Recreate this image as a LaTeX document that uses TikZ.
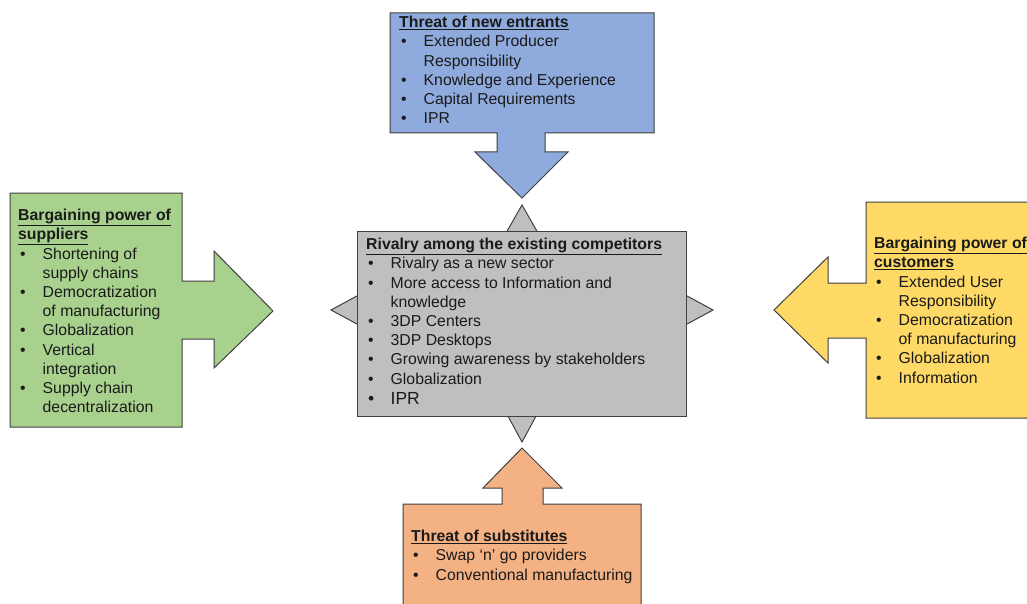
\documentclass[tikz,border=0pt]{standalone}
\usepackage{fontspec}
\setmainfont{Liberation Sans}
\usepackage{array}
\definecolor{edge}{HTML}{404040}
\definecolor{entrants}{HTML}{8FAADC}
\definecolor{suppliers}{HTML}{A9D18E}
\definecolor{customers}{HTML}{FFD966}
\definecolor{substitutes}{HTML}{F4B183}
\definecolor{rivalry}{HTML}{BFBFBF}
\definecolor{ink}{HTML}{1A1A1A}
\newcommand{\blocktitle}[1]{\multicolumn{2}{@{}l@{}}{\underline{\textbf{#1}}}}
\newcommand{\itm}{\hspace{2pt}\textbullet}
\newenvironment{forcelist}{\fontsize{15.8}{19.2}\selectfont\begin{tabular}{@{}p{24.5pt}@{}l@{}}}{\end{tabular}}
\tikzset{
  force/.style={draw=edge, line width=1pt, line join=miter},
  listtext/.style={anchor=north west, inner sep=0pt, text=ink}
}
\begin{document}
\begin{tikzpicture}[x=1pt,y=-1pt]
\useasboundingbox (0,0) rectangle (1027,604);

% central rivalry block: four points behind a rectangle
\fill[white] (0,0) rectangle (1027,604);
\draw[force, fill=rivalry] (502,240) -- (522,205) -- (542,240) -- cycle;
\draw[force, fill=rivalry] (502,405) -- (522,442) -- (542,405) -- cycle;
\draw[force, fill=rivalry] (368,290) -- (331,310) -- (368,330) -- cycle;
\draw[force, fill=rivalry] (676,290) -- (713,310) -- (676,330) -- cycle;
\draw[force, fill=rivalry] (357,231) rectangle (686,416);

% threat of new entrants (top, arrow down)
\draw[force, fill=entrants] (390,13) -- (654,13) -- (654,133) -- (545,133) -- (545,152)
  -- (568,152) -- (522,198) -- (475,152) -- (497,152) -- (497,133) -- (390,133) -- cycle;

% bargaining power of suppliers (left, arrow right)
\draw[force, fill=suppliers] (10,193) -- (182,193) -- (182,281) -- (214,281) -- (214,251)
  -- (273,311) -- (214,368) -- (214,339) -- (182,339) -- (182,427) -- (10,427) -- cycle;

% bargaining power of customers (right, arrow left)
\draw[force, fill=customers] (866,202) -- (1035,202) -- (1035,418) -- (866,418) -- (866,338)
  -- (828,338) -- (828,363) -- (774,310) -- (828,257) -- (828,283) -- (866,283) -- cycle;

% threat of substitutes (bottom, arrow up)
\draw[force, fill=substitutes] (403,504) -- (502,504) -- (502,488) -- (483,488) -- (522,448)
  -- (562,488) -- (543,488) -- (543,504) -- (641,504) -- (641,612) -- (403,612) -- cycle;

% texts
\node[listtext] (tentrants) at (399,14) {\begin{forcelist}
\blocktitle{Threat of new entrants}\\
\itm & Extended Producer\\
     & Responsibility\\
\itm & Knowledge and Experience\\
\itm & Capital Requirements\\
\itm & IPR
\end{forcelist}};

\node[listtext] (tsuppliers) at (18,207) {\begin{forcelist}
\blocktitle{Bargaining power of}\\
\blocktitle{suppliers}\\
\itm & Shortening of\\
     & supply chains\\
\itm & Democratization\\
     & of manufacturing\\
\itm & Globalization\\
\itm & Vertical\\
     & integration\\
\itm & Supply chain\\
     & decentralization
\end{forcelist}};

\node[listtext] (trivalry) at (366,236) {\begin{forcelist}
\blocktitle{Rivalry among the existing competitors}\\
\itm & Rivalry as a new sector\\
\itm & More access to Information and\\
     & knowledge\\
\itm & 3DP Centers\\
\itm & 3DP Desktops\\
\itm & Growing awareness by stakeholders\\
\itm & Globalization\\[1.5pt]
\fontsize{17.5}{19.2}\selectfont\itm & \fontsize{17.5}{19.2}\selectfont IPR
\end{forcelist}};

\node[listtext] (tcustomers) at (874,235) {\begin{forcelist}
\blocktitle{Bargaining power of}\\
\blocktitle{customers}\\
\itm & Extended User\\
     & Responsibility\\
\itm & Democratization\\
     & of manufacturing\\
\itm & Globalization\\
\itm & Information
\end{forcelist}};

\node[listtext] (tsubstitutes) at (411,528) {\begin{forcelist}
\blocktitle{Threat of substitutes}\\
\itm & Swap ‘n’ go providers\\
\itm & Conventional manufacturing
\end{forcelist}};
\end{tikzpicture}
\end{document}
